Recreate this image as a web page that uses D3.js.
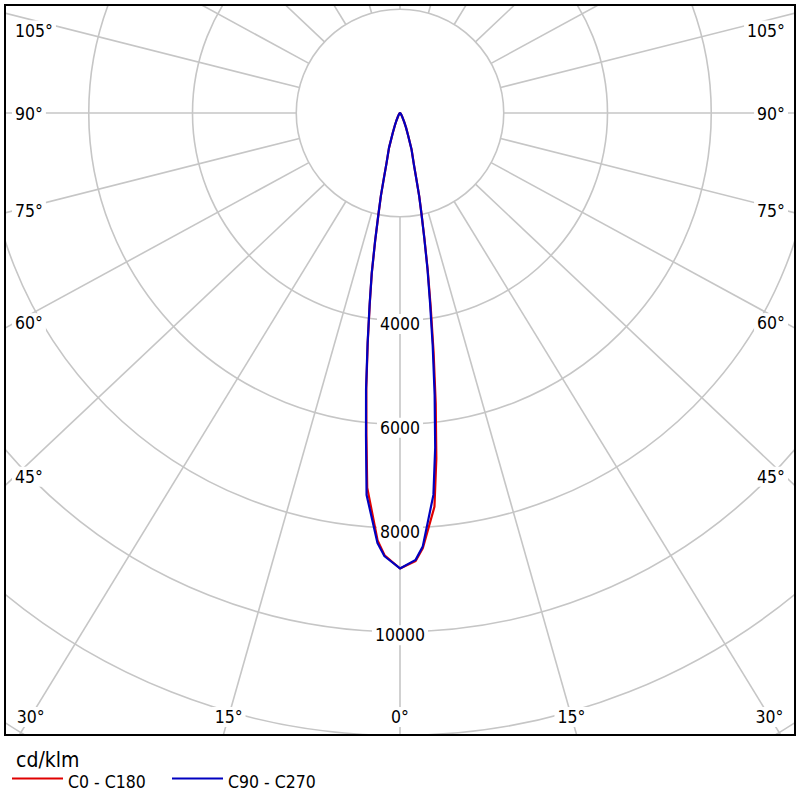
<!DOCTYPE html>
<html>
<head>
<meta charset="utf-8">
<script src="https://cdn.jsdelivr.net/npm/d3@7"></script>
<style>
  body { margin: 0; background: #fff; }
  text { font-family: "DejaVu Sans Condensed", "DejaVu Sans", sans-serif; fill: #000; }
</style>
</head>
<body>
<svg id="chart" width="800" height="800"></svg>
<script>
// gamma angles (deg from nadir) and intensity in cd/klm
var gamma = [0, 2, 3, 5, 6, 7, 8, 9, 10, 11, 12, 13, 14, 15, 17.5, 20, 22.5, 25, 30, 35, 40, 50, 60, 70, 80, 90];
var c0   = [8780, 8640, 8400, 7620, 6700, 5650, 4650, 3780, 3080, 2470, 2000, 1650, 1290, 1050, 750, 455, 305, 195, 92, 50, 27, 13, 6, 3, 1, 0];
var c180 = [8780, 8530, 8250, 7250, 6200, 5330, 4470, 3730, 3130, 2510, 2000, 1630, 1260, 1010, 700, 400, 255, 165, 78, 44, 25, 12, 6, 3, 1, 0];
var c90  = [8780, 8620, 8370, 7390, 6490, 5480, 4530, 3700, 3050, 2450, 1990, 1640, 1280, 1040, 740, 450, 300, 190, 90, 50, 27, 13, 6, 3, 1, 0];
var c270 = [8780, 8550, 8300, 7390, 6270, 5370, 4490, 3745, 3140, 2520, 2010, 1640, 1260, 1010, 710, 410, 260, 170, 80, 45, 25, 12, 6, 3, 1, 0];

var ringValues = [2000, 4000, 6000, 8000, 10000, 12000, 14000, 16000];
var ringLabels = [4000, 6000, 8000, 10000];
var angleLabels = [0, 15, 30, 45, 60, 75, 90, 105];
var unitLabel = "cd/klm";
var seriesNames = ["C0 - C180", "C90 - C270"];
var seriesColors = ["#e00000", "#0000c0"];

var svg = d3.select("#chart");
var frame = {x0: 5, y0: 5, x1: 795, y1: 735};
var cx = 400, cy = 113;
var gridAspect = 1.06;   // the source draws its spokes slightly wider than true
var labelSize = 17.5;

var r = d3.scaleLinear().domain([0, 2000]).range([0, 103.75]);
var rad = function(deg) { return deg * Math.PI / 180; };

svg.append("defs").append("clipPath").attr("id", "frameClip")
  .append("rect")
  .attr("x", frame.x0).attr("y", frame.y0)
  .attr("width", frame.x1 - frame.x0).attr("height", frame.y1 - frame.y0);

var plot = svg.append("g").attr("clip-path", "url(#frameClip)");

// rings
plot.selectAll("circle.ring").data(ringValues).enter().append("circle")
  .attr("class", "ring")
  .attr("cx", cx).attr("cy", cy)
  .attr("r", function(d) { return r(d); })
  .attr("fill", "none")
  .attr("stroke", "#c6c6c6")
  .attr("stroke-width", 1.6);

// spokes every 15 deg, starting at the inner ring
function spokeDir(deg) {
  var ux = gridAspect * Math.sin(rad(deg));
  var uy = Math.cos(rad(deg));
  var len = Math.sqrt(ux * ux + uy * uy);
  return [ux / len, uy / len];
}
var spokes = d3.range(0, 360, 15);
plot.selectAll("line.spoke").data(spokes).enter().append("line")
  .attr("class", "spoke")
  .attr("x1", function(d) { return cx + r(2000) * spokeDir(d)[0]; })
  .attr("y1", function(d) { return cy + r(2000) * spokeDir(d)[1]; })
  .attr("x2", function(d) { return cx + 1200 * spokeDir(d)[0]; })
  .attr("y2", function(d) { return cy + 1200 * spokeDir(d)[1]; })
  .attr("stroke", "#c6c6c6")
  .attr("stroke-width", 1.6);

// label with white box behind it
function boxedText(g, x, y, str, anchor, size) {
  var t = g.append("text")
    .attr("x", x).attr("y", y)
    .attr("text-anchor", anchor)
    .style("font-size", size + "px")
    .text(str);
  var b = t.node().getBBox();
  g.insert("rect", "text")
    .attr("x", b.x - 3).attr("y", b.y)
    .attr("width", b.width + 6).attr("height", b.height)
    .attr("fill", "#fff");
  g.node().appendChild(t.node());
}

var labelGroup = plot.append("g");

// intensity labels on the nadir axis
ringLabels.forEach(function(v) {
  boxedText(labelGroup, cx, cy + r(v) + 9.5, String(v), "middle", labelSize);
});

// angle labels at the frame edges
angleLabels.forEach(function(a) {
  [-1, 1].forEach(function(side) {
    if (a == 0 && side == 1) return;
    var dir = spokeDir(a);
    var x, y, anchor;
    if (a >= 45) {
      var dx = cx - 15;
      y = cy + dx * dir[1] / dir[0];
      y = Math.max(30, y);
      x = side < 0 ? 15 : 785;
      anchor = side < 0 ? "start" : "end";
    } else {
      y = 716.5;
      x = cx + side * (y - cy) * dir[0] / dir[1];
      anchor = "middle";
    }
    boxedText(labelGroup, x, y + 6.5, a + "°", anchor, labelSize);
  });
});

// intensity curves
function curvePoints(left, right) {
  var pts = [];
  for (var i = gamma.length - 1; i >= 0; i--) {
    pts.push([cx - r(left[i]) * Math.sin(rad(gamma[i])), cy + r(left[i]) * Math.cos(rad(gamma[i]))]);
  }
  for (var j = 1; j < gamma.length; j++) {
    pts.push([cx + r(right[j]) * Math.sin(rad(gamma[j])), cy + r(right[j]) * Math.cos(rad(gamma[j]))]);
  }
  return pts;
}
var line = d3.line();
var curves = [curvePoints(c180, c0), curvePoints(c270, c90)];
plot.selectAll("path.curve").data(curves).enter().append("path")
  .attr("class", "curve")
  .attr("d", function(d) { return line(d); })
  .attr("fill", "none")
  .attr("stroke", function(d, i) { return seriesColors[i]; })
  .attr("stroke-width", 2.2)
  .attr("stroke-linejoin", "round");

// frame
svg.append("rect")
  .attr("x", frame.x0).attr("y", frame.y0)
  .attr("width", frame.x1 - frame.x0).attr("height", frame.y1 - frame.y0)
  .attr("fill", "none")
  .attr("stroke", "#000")
  .attr("stroke-width", 2);

// legend
svg.append("text").attr("x", 16).attr("y", 767).style("font-size", "21px").text(unitLabel);
var legendX = [12, 172];
seriesNames.forEach(function(name, i) {
  svg.append("line")
    .attr("x1", legendX[i]).attr("x2", legendX[i] + 51)
    .attr("y1", 778.5).attr("y2", 778.5)
    .attr("stroke", seriesColors[i]).attr("stroke-width", 2);
  svg.append("text").attr("x", legendX[i] + 56).attr("y", 788)
    .style("font-size", "17.5px").text(name);
});
</script>
</body>
</html>
